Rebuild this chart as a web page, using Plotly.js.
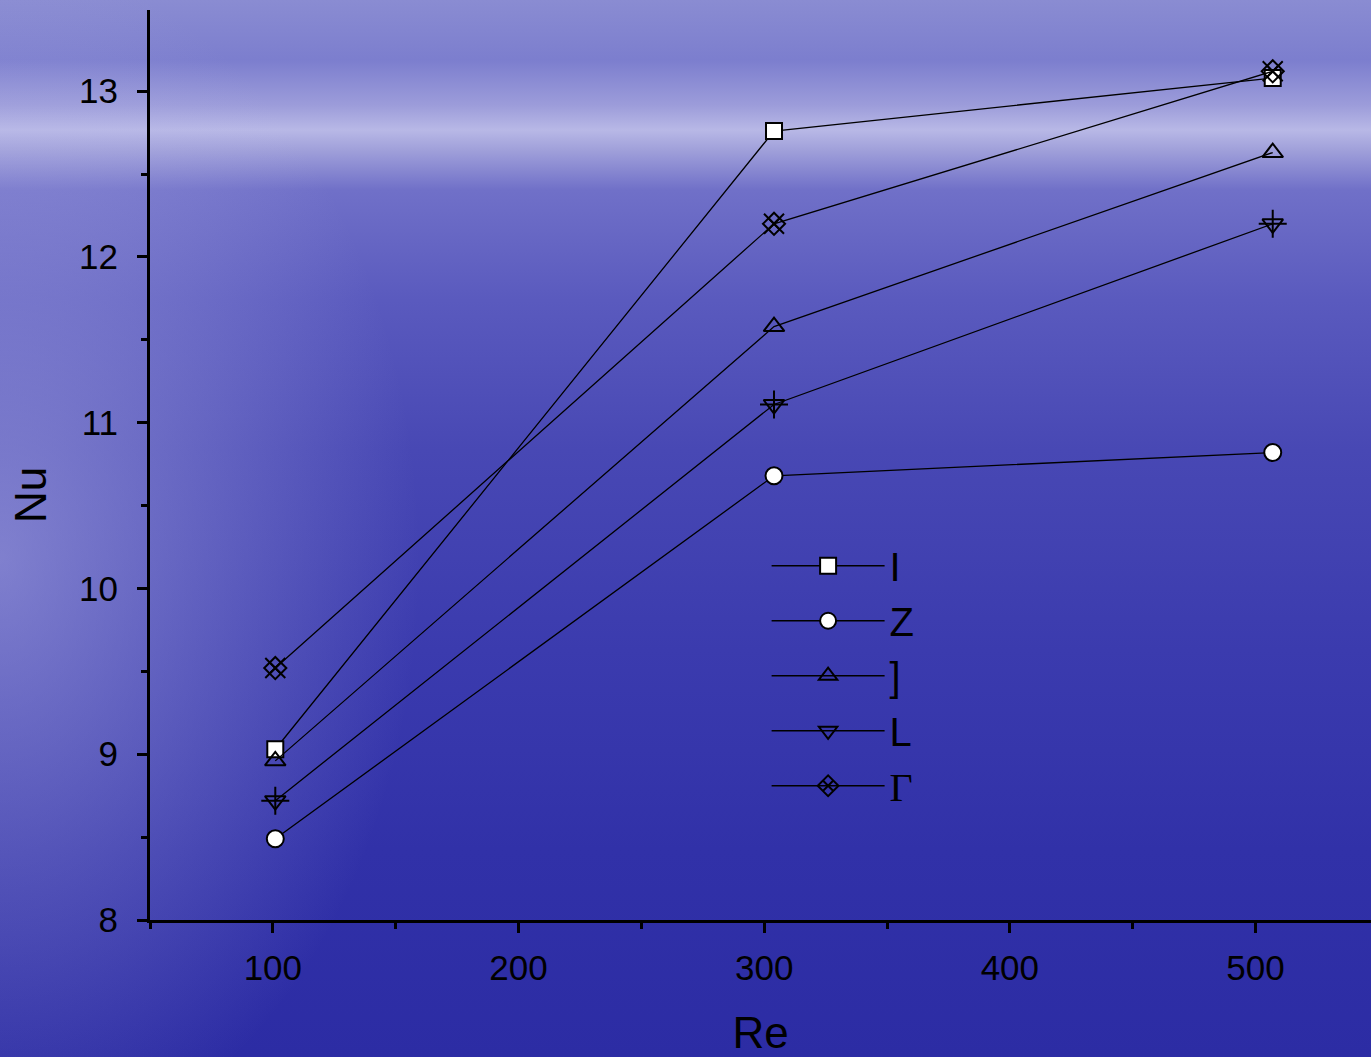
<!DOCTYPE html>
<html>
<head>
<meta charset="utf-8">
<script src="https://cdn.plot.ly/plotly-3.0.1.min.js"></script>
<style>
  html, body { margin: 0; padding: 0; width: 1371px; height: 1057px; overflow: hidden; }
  body {
    background:
      radial-gradient(ellipse 420px 600px at 0px 560px, rgba(190,190,235,0.5), rgba(190,190,235,0) 100%),
      linear-gradient(to bottom,
        #8a8cd2 0px, #7c7ece 60px, #9c9cda 105px, #b8b8e6 130px, #a0a0da 150px,
        #7070c8 190px, #5a5abe 300px, #4848b4 450px, #3b3bae 650px, #3131a8 850px, #2c2ca4 1057px);
  }
  #chart { width: 1371px; height: 1057px; }
</style>
</head>
<body>
<div id="chart"></div>
<script>
// Data
const re = [101, 304, 507];
const seriesNames = ['I', 'Z', ']', 'L', '<span style="font-family:\'Liberation Serif\',serif">Γ</span>'];
const nuI     = [9.03, 12.76, 13.08];
const nuZ     = [8.49, 10.68, 10.82];
const nuBrack = [8.96, 11.58, 12.63];
const nuL     = [8.72, 11.11, 12.20];
const nuGamma = [9.52, 12.20, 13.12];

const xTickVals = [100, 200, 300, 400, 500];
const yTickVals = [8, 9, 10, 11, 12, 13];

const lineStyle = { color: '#000', width: 1.3 };
const mk = (symbol, fill, size) => ({ symbol: symbol, size: size, color: fill, line: { color: '#000', width: 2 } });

const traces = [
  { x: re, y: nuI, name: seriesNames[0], mode: 'lines+markers', line: lineStyle, marker: mk('square', '#fff', 16) },
  { x: re, y: nuZ, name: seriesNames[1], mode: 'lines+markers', line: lineStyle, marker: mk('circle', '#fff', 17) },
  { x: re, y: nuBrack, name: seriesNames[2], mode: 'lines+markers', line: lineStyle, marker: mk('triangle-up-open', '#000', 18) },
  { x: re, y: nuL, name: seriesNames[3], mode: 'lines+markers', line: lineStyle, marker: mk('triangle-down-open', '#000', 18) },
  { x: re, y: nuL, name: 'L-cross', mode: 'markers', showlegend: false, hoverinfo: 'skip', marker: mk('cross-thin-open', '#000', 20) },
  { x: re, y: nuGamma, name: seriesNames[4], mode: 'lines+markers', line: lineStyle, marker: mk('diamond-x-open', '#000', 17) },
  { x: re, y: nuGamma, name: 'G-x', mode: 'markers', showlegend: false, hoverinfo: 'skip', marker: mk('x-thin-open', '#000', 20) }
];

const fam = 'Liberation Sans, Arial, sans-serif';
const tickFont = { family: fam, size: 35, color: '#000' };

const layout = {
  width: 1371, height: 1057,
  margin: { l: 150, r: 0, t: 10, b: 137 },
  paper_bgcolor: 'rgba(0,0,0,0)',
  plot_bgcolor: 'rgba(0,0,0,0)',
  showlegend: true,
  xaxis: {
    range: [50, 547],
    tickvals: xTickVals,
    ticks: 'outside', ticklen: 10, tickwidth: 3, tickcolor: '#000',
    minor: { dtick: 50, tick0: 50, ticks: 'outside', ticklen: 6, tickwidth: 3, tickcolor: '#000', showgrid: false },
    showline: true, linewidth: 3, linecolor: '#000',
    showgrid: false, zeroline: false,
    tickfont: tickFont,
    ticklabelstandoff: 5,
    title: { text: 'Re', font: { family: fam, size: 44, color: '#000' }, standoff: 36 }
  },
  yaxis: {
    range: [8, 13.49],
    tickvals: yTickVals,
    ticks: 'outside', ticklen: 10, tickwidth: 3, tickcolor: '#000',
    minor: { dtick: 0.5, tick0: 8, ticks: 'outside', ticklen: 6, tickwidth: 3, tickcolor: '#000', showgrid: false },
    showline: true, linewidth: 3, linecolor: '#000',
    showgrid: false, zeroline: false,
    tickfont: tickFont,
    ticklabelstandoff: 12
  },
  annotations: [{
    text: 'Nu', xref: 'paper', yref: 'paper', x: -0.0983, y: 0.467,
    xanchor: 'center', yanchor: 'middle', textangle: -90, showarrow: false,
    font: { family: fam, size: 44, color: '#000' }
  }],
  legend: {
    x: 0.505, y: 0.425, xanchor: 'left', yanchor: 'top',
    bgcolor: 'rgba(0,0,0,0)', borderwidth: 0,
    font: { family: fam, size: 40, color: '#000' },
    itemwidth: 113,
    tracegroupgap: 0
  }
};

Plotly.newPlot('chart', traces, layout, { displayModeBar: false, staticPlot: true });
</script>
</body>
</html>
